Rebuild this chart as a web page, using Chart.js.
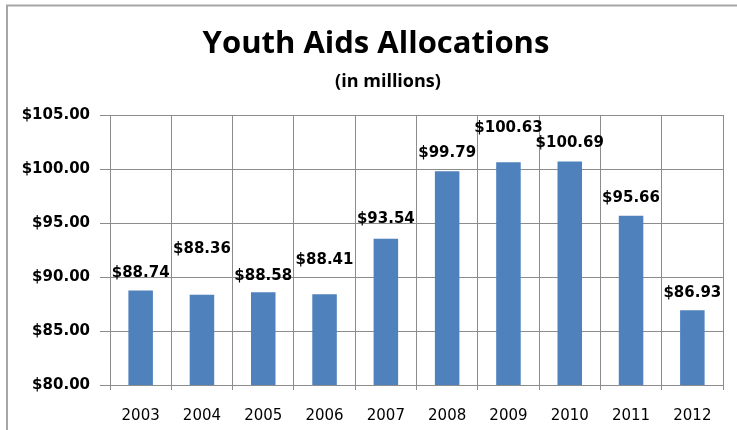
<!DOCTYPE html>
<html>
<head>
<meta charset="utf-8">
<script src="https://cdn.jsdelivr.net/npm/chart.js@4.4.0/dist/chart.umd.min.js"></script>
<style>
  html, body { margin: 0; padding: 0; background: #fff; }
  #wrap { width: 737px; height: 430px; }
</style>
</head>
<body>
<div id="wrap"><canvas id="bars" width="737" height="430"></canvas></div>
<script>
  // chart data
  let years = ['2003', '2004', '2005', '2006', '2007', '2008', '2009', '2010', '2011', '2012'];
  let allocations = [88.74, 88.36, 88.58, 88.41, 93.54, 99.79, 100.63, 100.69, 95.66, 86.93];
  let yTicks = [80, 85, 90, 95, 100, 105];
  let titleText = 'Youth Aids Allocations';
  let subtitleText = '(in millions)';

  // how far above the bar top each value label sits (px)
  let labelLift = [17, 46, 16, 34, 20, 18, 34, 18, 18, 17];

  const money = v => '$' + Number(v).toFixed(2);

  // light grey frame on the top and left side, plus the headings
  const framePlugin = {
    id: 'frame',
    beforeDraw(chart) {
      let c = chart.ctx;
      c.save();
      c.fillStyle = '#ffffff';
      c.fillRect(0, 0, chart.width, chart.height);
      c.strokeStyle = '#a6a6a6';
      c.lineWidth = 2;
      c.beginPath();
      c.moveTo(6, 5.5);
      c.lineTo(chart.width, 5.5);
      c.moveTo(7, 5);
      c.lineTo(7, chart.height);
      c.stroke();

      c.fillStyle = '#000';
      c.textAlign = 'center';
      c.textBaseline = 'alphabetic';
      c.font = 'bold 31px "Open Sans"';
      c.fillText(titleText, 376, 53);
      c.font = 'bold 18px "Open Sans"';
      c.fillText(subtitleText, 388, 87);
      c.restore();
    }
  };

  // value labels above the bars
  const valuePlugin = {
    id: 'values',
    afterDatasetsDraw(chart) {
      let c = chart.ctx;
      let meta = chart.getDatasetMeta(0);
      c.save();
      c.font = 'bold 15px "DejaVu Sans"';
      c.fillStyle = '#000';
      c.textAlign = 'center';
      c.textBaseline = 'middle';
      meta.data.forEach((bar, i) => {
        c.fillText(money(allocations[i]), bar.x, bar.y - labelLift[i]);
      });
      c.restore();
    }
  };

  let ctx = document.querySelector('#bars');

  const myChart = new Chart(ctx, {
    type: 'bar',
    data: {
      labels: years,
      datasets: [{
        label: 'Allocation',
        data: allocations,
        backgroundColor: '#4F81BD',
        borderWidth: 0,
        barPercentage: 0.4,
        categoryPercentage: 1.0
      }]
    },
    options: {
      responsive: false,
      animation: false,
      devicePixelRatio: 1,
      layout: { padding: { left: 0, right: 14, top: 115, bottom: 0 } },
      plugins: {
        legend: { display: false },
        tooltip: { enabled: false },
        title: { display: false }
      },
      scales: {
        x: {
          grid: { color: '#8c8c8c', lineWidth: 1, offset: true, tickLength: 5 },
          border: { color: '#8c8c8c' },
          ticks: {
            color: '#000',
            padding: 17,
            font: { family: 'DejaVu Sans', size: 15 }
          },
          afterFit(scale) { scale.height = 45; }
        },
        y: {
          min: yTicks[0],
          max: yTicks[yTicks.length - 1],
          afterBuildTicks(scale) {
            scale.ticks = yTicks.map(v => ({ value: v }));
          },
          grid: { color: '#8c8c8c', lineWidth: 1, tickLength: 10 },
          border: { color: '#8c8c8c' },
          ticks: {
            color: '#000',
            padding: 10,
            font: { family: 'DejaVu Sans', size: 15, weight: 'bold' },
            callback: v => money(v)
          },
          afterFit(scale) { scale.width = 110; }
        }
      }
    },
    plugins: [framePlugin, valuePlugin]
  });
</script>
</body>
</html>
